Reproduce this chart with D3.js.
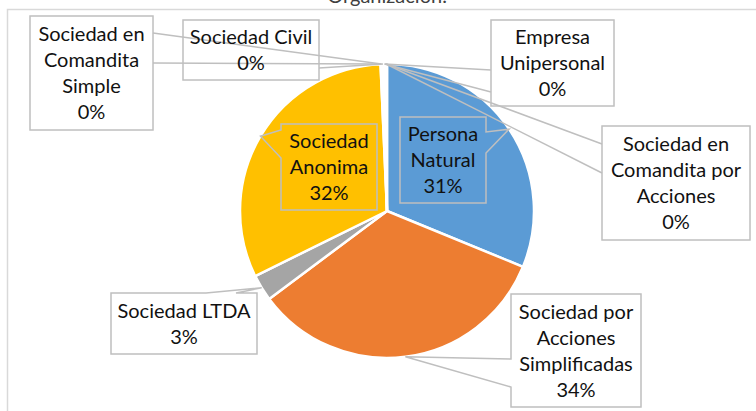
<!DOCTYPE html>
<html>
<head>
<meta charset="utf-8">
<script src="https://cdn.jsdelivr.net/npm/d3@7"></script>
<style>
    body {
        margin: 0;
        background: #fff;
    }

    svg text {
        font-family: Lato, "Open Sans", sans-serif;
        font-size: 20px;
        fill: #111;
    }

    .slice {
        stroke: #fff;
        stroke-width: 2.5px;
    }

    .box, .leader {
        fill: none;
        stroke: #bfbfbf;
        stroke-width: 1.5px;
    }
</style>
</head>
<body>
<svg width="756" height="411"></svg>
<script>
    // data (share of organisations, in %)
    var titleText = "Organización.";
    var categories = ["Persona Natural", "Sociedad por Acciones Simplificadas", "Sociedad LTDA",
        "Sociedad Anonima", "Sociedad en Comandita Simple", "Sociedad Civil",
        "Empresa Unipersonal", "Sociedad en Comandita por Acciones"];
    var values = [31.2, 33.6, 2.9, 31.6, 0.175, 0.175, 0.175, 0.175];
    var colors = ["#5B9BD5", "#ED7D31", "#A5A5A5", "#FFC000", "#4472C4", "#70AD47", "#264478", "#9E480E"];

    // where each data label box sits (layout only)
    var boxes = [
        { x: 400, y: 117, w: 86, h: 86, callout: "right", b: [15, 36] },
        { x: 511, y: 294, w: 130, h: 113, callout: "left", b: [65, 93] },
        { x: 111, y: 293, w: 146, h: 61, callout: "top", b: [95, 125] },
        { x: 281, y: 124, w: 96, h: 86, callout: "left", b: [6, 34] },
        { x: 30, y: 16, w: 123, h: 114, leader: "right", b: [17, 47] },
        { x: 183, y: 20, w: 136, h: 60, leader: "right", b: [48] },
        { x: 491, y: 20, w: 123, h: 86, leader: "left", b: [50, 72] },
        { x: 602, y: 126, w: 148, h: 114, leader: "left", b: [18, 47] }
    ];

    var svg = d3.select("svg"),
        cx = 387,
        cy = 211,
        radius = 147,
        lineH = 26;

    // chart area border (runs off the right and bottom of the crop)
    svg.append("rect")
        .attr("x", 7.5).attr("y", 9.5)
        .attr("width", 800).attr("height", 500)
        .attr("fill", "none")
        .attr("stroke", "#d9d9d9")
        .attr("stroke-width", 1.5);

    svg.append("text")
        .attr("x", cx)
        .attr("y", 3)
        .attr("text-anchor", "middle")
        .style("fill", "#404040")
        .text(titleText);

    var total = d3.sum(values);
    var data = categories.map(function (c, i) {
        return { name: c, value: values[i], color: colors[i], box: boxes[i] };
    });

    var pie = d3.pie()
        .sort(null)
        .value(function (d) { return d.value; });

    var arc = d3.arc()
        .innerRadius(0)
        .outerRadius(radius);

    var arcs = pie(data);

    var g = svg.append("g")
        .attr("transform", "translate(" + cx + "," + cy + ")");

    g.selectAll("path")
        .data(arcs)
        .enter().append("path")
        .attr("class", "slice")
        .attr("fill", function (d) { return d.data.color; })
        .attr("d", arc);

    function edgePoint(d) {
        var a = (d.startAngle + d.endAngle) / 2;
        return [cx + radius * Math.sin(a), cy - radius * Math.cos(a)];
    }

    function calloutPath(bx, tip) {
        var x = bx.x, y = bx.y, w = bx.w, h = bx.h, b = bx.b;
        if (bx.callout == "right") {
            return "M" + x + "," + y + "H" + (x + w) + "V" + (y + b[0]) + "L" + tip + "L" + (x + w) + "," + (y + b[1]) +
                "V" + (y + h) + "H" + x + "Z";
        }
        if (bx.callout == "left") {
            return "M" + x + "," + y + "H" + (x + w) + "V" + (y + h) + "H" + x + "V" + (y + b[1]) + "L" + tip +
                "L" + x + "," + (y + b[0]) + "Z";
        }
        // top
        return "M" + x + "," + y + "H" + (x + b[0]) + "L" + tip + "L" + (x + b[1]) + "," + y + "H" + (x + w) +
            "V" + (y + h) + "H" + x + "Z";
    }

    var fmt = function (v) { return Math.round(v / total * 100) + "%"; };

    var labels = svg.append("g");

    arcs.forEach(function (d) {
        var bx = d.data.box,
            tip = edgePoint(d);

        if (bx.callout) {
            labels.append("path")
                .attr("class", "box")
                .attr("d", calloutPath(bx, tip));
        } else {
            bx.b.forEach(function (off) {
                var ax = bx.leader == "right" ? bx.x + bx.w : bx.x;
                labels.append("line")
                    .attr("class", "leader")
                    .attr("x1", tip[0]).attr("y1", tip[1])
                    .attr("x2", ax).attr("y2", bx.y + off);
            });
            labels.append("rect")
                .attr("class", "box")
                .attr("x", bx.x).attr("y", bx.y)
                .attr("width", bx.w).attr("height", bx.h);
        }

        // word-wrap the category name to the box width
        var words = d.data.name.split(" "),
            lines = [],
            cur = "";
        var probe = labels.append("text");
        words.forEach(function (wd) {
            var test = cur ? cur + " " + wd : wd;
            probe.text(test);
            if (cur && probe.node().getComputedTextLength() > bx.w - 6) {
                lines.push(cur);
                cur = wd;
            } else {
                cur = test;
            }
        });
        lines.push(cur);
        probe.remove();
        lines.push(fmt(d.data.value));

        var top = bx.y + bx.h / 2 - lines.length * lineH / 2;
        var t = labels.append("text")
            .attr("text-anchor", "middle");
        lines.forEach(function (ln, i) {
            t.append("tspan")
                .attr("x", bx.x + bx.w / 2)
                .attr("y", top + i * lineH + lineH / 2)
                .attr("dy", "0.35em")
                .text(ln);
        });
    });
</script>
</body>
</html>
